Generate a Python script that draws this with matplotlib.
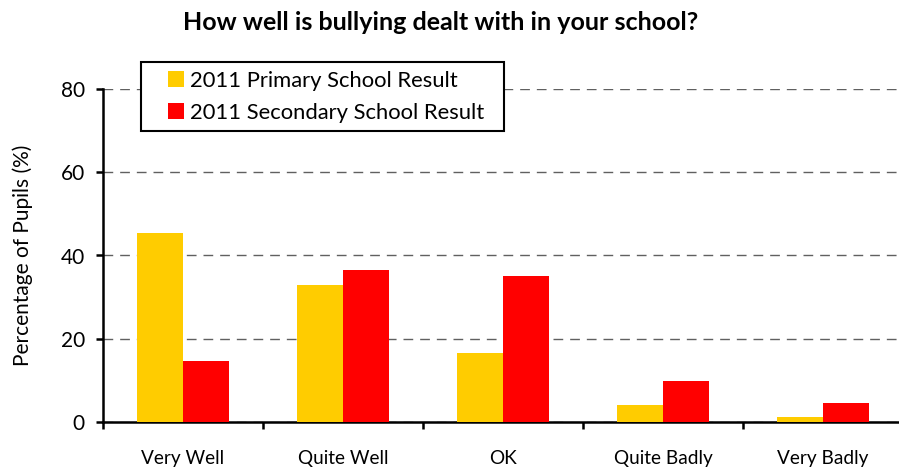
import matplotlib
matplotlib.use("Agg")
import matplotlib.pyplot as plt
from matplotlib.patches import Rectangle
from matplotlib.legend_handler import HandlerPatch
import numpy as np

categories = ["Very Well", "Quite Well", "OK", "Quite Badly", "Very Badly"]
primary_2011 = [45.3, 33.0, 16.5, 4.1, 1.2]
secondary_2011 = [14.6, 36.4, 35.0, 9.8, 4.5]
series_names = ["2011 Primary School Result", "2011 Secondary School Result"]

plt.rcParams['font.family'] = ['Lato', 'DejaVu Sans']


def carre_a_droite(legend, orig_handle, xdescent, ydescent, width, height, fontsize):
    # petit carré collé à droite de la zone de la poignée (style Excel)
    return Rectangle((width - height - xdescent, -ydescent), height, height)


fig = plt.figure(figsize=(8.99, 4.67), dpi=100)
ax = fig.add_axes([103/899, 45/467, 800/899, 333/467])

x = np.arange(len(categories))
w = 0.2875
b1 = ax.bar(x - w/2, primary_2011, width=w, color="#FFCC00", zorder=3)
b2 = ax.bar(x + w/2, secondary_2011, width=w, color="#FF0000", zorder=3)

ax.set_xlim(-0.5, len(categories) - 0.5)
ax.set_ylim(0, 80)
ax.set_yticks([0, 20, 40, 60, 80])
ax.yaxis.grid(True, linestyle=(0, (7, 5)), color="#606060", linewidth=1.0, zorder=0)

ax.set_xticks(x)
ax.set_xticklabels(categories, fontsize=13.7)
ax.set_xticks(np.arange(-0.5, len(categories)), minor=True)
ax.tick_params(axis="x", which="major", length=0, pad=20)
ax.tick_params(axis="x", which="minor", length=5, width=1.8, direction="out")
ax.tick_params(axis="y", labelsize=15, length=5, width=1.8, direction="out", pad=8)

for side in ["top", "right"]:
    ax.spines[side].set_visible(False)
for side in ["left", "bottom"]:
    ax.spines[side].set_linewidth(1.8)

ax.set_ylabel("Percentage of Pupils (%)", fontsize=15, labelpad=20)
fig.suptitle("How well is bullying dealt with in your school?", fontsize=18, fontweight="bold",
             x=441/899, y=1 - 11/467, va="top")

leg = ax.legend([b1.patches[0], b2.patches[0]], series_names,
                loc="upper left", bbox_to_anchor=(141/899, 1 - 133/467, 363/899, 71/467),
                bbox_transform=fig.transFigure, mode="expand", borderaxespad=0,
                fancybox=False, edgecolor="black", framealpha=1, fontsize=15.8,
                handlelength=1.55, handleheight=0.75, handletextpad=0.27,
                borderpad=0.4, labelspacing=0.54,
                handler_map={Rectangle: HandlerPatch(patch_func=carre_a_droite)})
leg.get_frame().set_linewidth(1.5)

fig.savefig("out.png", dpi=100)
